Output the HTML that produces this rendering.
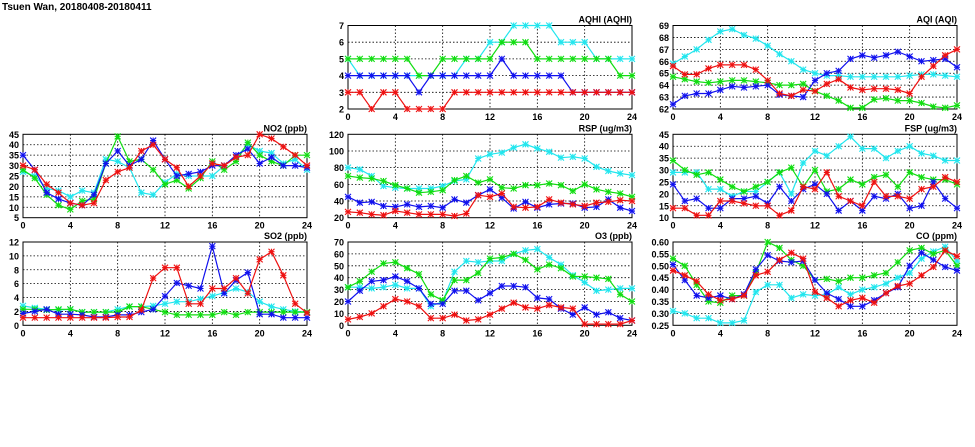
<!DOCTYPE html>
<html><head><meta charset="utf-8"><style>
body{margin:0;background:#fff;}
svg{display:block;font-family:"Liberation Sans",sans-serif;}
</style></head><body>
<svg id="chart" width="975" height="447" viewBox="0 0 975 447" xmlns="http://www.w3.org/2000/svg">
<text x="2" y="10" font-size="10" font-weight="bold">Tsuen Wan, 20180408-20180411</text>
</svg>
<script>
const hours = [0,1,2,3,4,5,6,7,8,9,10,11,12,13,14,15,16,17,18,19,20,21,22,23,24];
const xTicks = [0,4,8,12,16,20,24];

const aqhiCyan = [5,4,4,4,4,4,4,4,4,4,5,5,6,6,7,7,7,7,6,6,6,5,5,5,5];
const aqhiGreen = [5,5,5,5,5,5,4,4,5,5,5,5,5,6,6,6,5,5,5,5,5,5,5,4,4];
const aqhiBlue = [4,4,4,4,4,4,3,4,4,4,4,4,4,5,4,4,4,4,4,3,3,3,3,3,3];
const aqhiRed = [3,3,2,3,3,2,2,2,2,3,3,3,3,3,3,3,3,3,3,3,3,3,3,3,3];
const aqhiTicks = [2,3,4,5,6,7];

const aqiCyan = [65.8,66.4,67,67.8,68.5,68.7,68.2,67.9,67.3,66.6,66,65.3,65,64.8,64.8,64.7,64.7,64.7,64.7,64.7,64.8,64.9,64.9,64.8,64.7];
const aqiGreen = [64.7,64.5,64.3,64.2,64.3,64.4,64.4,64.3,64.2,64,64,64.1,63.5,63.1,62.7,62.1,62.1,62.8,62.9,62.7,62.7,62.5,62.2,62.1,62.3];
const aqiBlue = [62.4,63.1,63.3,63.3,63.6,63.9,63.8,63.9,64,63.2,63.1,63,64.4,65,65.2,66.2,66.5,66.3,66.5,66.8,66.4,66,66.1,66.2,65.5];
const aqiRed = [65.6,64.9,64.9,65.4,65.7,65.7,65.7,65.3,64.4,63.3,63.1,63.6,63.5,64.1,64.5,63.8,63.6,63.7,63.7,63.6,63.3,64.7,65.6,66.5,67];
const aqiTicks = [62,63,64,65,66,67,68,69];

const no2Cyan = [27,25,19,18,15,18,17,33,32,29,17,16,22,26,25,25,25,30,34,40,37,36,31,33,28];
const no2Green = [28,24,16,11,9,13,14,31,44,32,33,28,21,23,19,24,32,28,32,41,35,32,30,35,35];
const no2Blue = [35,28,17,14,12,11,16,31,37,30,33,42,33,25,26,27,30,30,35,38,31,34,30,30,29];
const no2Red = [30,28,21,17,12,11,12,23,27,29,37,40,33,29,20,25,31,30,34,35,45,43,39,35,30];
const no2Ticks = [5,10,15,20,25,30,35,40,45];

const rspCyan = [80,78,70,58,56,55,55,55,58,64,66,91,96,98,104,108,103,99,92,93,91,81,76,73,71];
const rspGreen = [70,68,67,64,59,55,50,51,53,65,70,62,66,56,55,59,59,61,59,52,60,54,51,49,45];
const rspBlue = [45,38,39,34,33,36,33,34,32,42,38,47,54,44,31,39,32,36,37,37,32,33,42,32,28];
const rspRed = [27,26,24,23,28,26,24,24,24,22,25,47,45,49,33,32,33,42,38,36,34,38,39,41,40];
const rspTicks = [20,40,60,80,100,120];

const fspCyan = [29,29,29,22,22,19,21,21,25,29,20,33,38,36,40,44,39,39,35,38,40,37,36,34,34];
const fspGreen = [34,30,28,29,26,23,21,23,25,29,31,23,30,21,22,26,24,27,28,23,29,27,26,26,24];
const fspBlue = [24,17,18,14,14,18,18,19,16,23,17,22,24,20,13,17,13,19,18,20,14,15,25,18,14];
const fspRed = [14,14,11,11,17,17,16,15,15,11,13,23,22,29,19,17,15,25,19,19,18,22,23,27,25];
const fspTicks = [10,15,20,25,30,35,40,45];

const so2Cyan = [2.8,2.5,2.3,2.2,2.3,1.9,1.9,1.9,2.3,2.7,2.7,2.8,3.1,3.4,3.4,3.8,4.2,4.7,5.3,4.8,3.4,2.7,2.3,2,1.9];
const so2Green = [2.3,2.3,2.2,2.3,2.3,1.9,1.9,1.9,1.9,2.7,2.7,2.3,1.9,1.5,1.5,1.5,1.5,1.9,1.5,1.9,1.9,1.9,1.9,1.9,1.9];
const so2Blue = [1.7,2.0,2.3,1.6,1.6,1.5,1.2,1.2,1.5,1.5,1.9,2.3,4.2,6.1,5.7,5.3,11.4,4.6,6.5,7.6,1.6,1.6,1.1,1.1,1.1];
const so2Red = [1.1,1.1,1.1,1.1,1.1,1.1,1.1,1.1,1.2,1.2,2.2,6.8,8.3,8.3,3.1,3.1,5.3,5.3,6.8,4.6,9.5,10.6,7.2,3.1,1.8];
const so2Ticks = [0,2,4,6,8,10,12];

const o3Cyan = [32,32,31,32,34,31,31,16,20,45,54,53,54,54,60,63,64,57,51,42,36,29,30,31,31];
const o3Green = [32,37,45,52,53,48,43,26,21,38,38,44,56,57,60,55,47,51,48,41,41,40,39,26,20];
const o3Blue = [20,29,37,38,41,37,31,18,18,29,29,21,27,33,33,32,23,22,14,9,15,9,11,6,4];
const o3Red = [5,7,10,16,22,20,16,6,6,9,4,5,9,14,19,15,14,17,15,14,1,1,1,1,4];
const o3Ticks = [0,10,20,30,40,50,60,70];

const coCyan = [0.31,0.30,0.28,0.28,0.26,0.26,0.27,0.39,0.42,0.42,0.365,0.38,0.375,0.38,0.41,0.38,0.40,0.41,0.425,0.45,0.47,0.53,0.56,0.58,0.52];
const coGreen = [0.53,0.50,0.42,0.35,0.345,0.375,0.375,0.47,0.60,0.575,0.525,0.50,0.44,0.445,0.435,0.45,0.45,0.46,0.47,0.515,0.565,0.575,0.55,0.565,0.50];
const coBlue = [0.505,0.44,0.375,0.365,0.375,0.36,0.38,0.485,0.545,0.52,0.515,0.52,0.44,0.385,0.36,0.33,0.33,0.355,0.385,0.41,0.50,0.555,0.525,0.495,0.48];
const coRed = [0.48,0.46,0.435,0.38,0.355,0.36,0.375,0.46,0.475,0.525,0.555,0.53,0.39,0.365,0.33,0.355,0.365,0.345,0.385,0.415,0.425,0.46,0.495,0.565,0.54];
const coTicks = [0.25,0.30,0.35,0.40,0.45,0.50,0.55,0.60];

const seriesColors = ['#22e6ee','#11dd11','#1111ee','#ee1111'];
const NS = 'http://www.w3.org/2000/svg';
const svg = document.getElementById('chart');

function mk(tag, attrs, parent){
  const e = document.createElementNS(NS, tag);
  for (const k in attrs) e.setAttribute(k, attrs[k]);
  (parent||svg).appendChild(e);
  return e;
}

const panels = [
  {key:'aqhi', title:'AQHI (AQHI)', L:348, R:632, T:25.5, B:109, ticks:aqhiTicks, series:[aqhiCyan,aqhiGreen,aqhiBlue,aqhiRed], dec:0},
  {key:'aqi', title:'AQI (AQI)', L:673, R:957, T:25.5, B:109, ticks:aqiTicks, series:[aqiCyan,aqiGreen,aqiBlue,aqiRed], dec:0},
  {key:'no2', title:'NO2 (ppb)', L:23, R:307, T:134.3, B:217.7, ticks:no2Ticks, series:[no2Cyan,no2Green,no2Blue,no2Red], dec:0},
  {key:'rsp', title:'RSP (ug/m3)', L:348, R:632, T:134.3, B:217.7, ticks:rspTicks, series:[rspCyan,rspGreen,rspBlue,rspRed], dec:0},
  {key:'fsp', title:'FSP (ug/m3)', L:673, R:957, T:134.3, B:217.7, ticks:fspTicks, series:[fspCyan,fspGreen,fspBlue,fspRed], dec:0},
  {key:'so2', title:'SO2 (ppb)', L:23, R:307, T:242, B:325.3, ticks:so2Ticks, series:[so2Cyan,so2Green,so2Blue,so2Red], dec:0},
  {key:'o3', title:'O3 (ppb)', L:348, R:632, T:242, B:325.3, ticks:o3Ticks, series:[o3Cyan,o3Green,o3Blue,o3Red], dec:0},
  {key:'co', title:'CO (ppm)', L:673, R:957, T:242, B:325.3, ticks:coTicks, series:[coCyan,coGreen,coBlue,coRed], dec:2}
];

panels.forEach(p => {
  const g = mk('g', {});
  
  
  const ymin = p.ticks[0], ymax = p.ticks[p.ticks.length-1];
  const xs = v => p.L + (v - 0) / 24 * (p.R - p.L);
  const ys = v => p.B - (v - ymin) / (ymax - ymin) * (p.B - p.T);

  // grid
  p.ticks.forEach((t,i) => {
    const y = ys(t);
    if (i > 0 && i < p.ticks.length-1) {
      const gl = mk('line', {x1:p.L, x2:p.R, y1:y, y2:y, stroke:'#000', 'stroke-width':0.8, 'stroke-dasharray':'1.5,2'}, g);
      
      
    }
    const lbl = mk('text', {x:p.L-4, y:y+3.5, 'font-size':9, 'font-weight':'bold', 'text-anchor':'end'}, g);
    lbl.textContent = p.dec ? t.toFixed(2) : String(t);
    
    
  });
  xTicks.forEach((t,i) => {
    const x = xs(t);
    if (i > 0 && i < xTicks.length-1) {
      const gl = mk('line', {x1:x, x2:x, y1:p.T, y2:p.B, stroke:'#000', 'stroke-width':0.8, 'stroke-dasharray':'1.5,2'}, g);
      
      
    }
    const lbl = mk('text', {x:x, y:p.B+11, 'font-size':9, 'font-weight':'bold', 'text-anchor':'middle'}, g);
    lbl.textContent = String(t);
    
    
  });
  const frame = mk('rect', {x:p.L, y:p.T, width:p.R-p.L, height:p.B-p.T, fill:'none', stroke:'#000', 'stroke-width':1}, g);
  
  
  const title = mk('text', {x:p.R, y:p.T-3, 'font-size':9, 'font-weight':'bold', 'text-anchor':'end'}, g);
  title.textContent = p.title;
  
  

  p.series.forEach((vals, si) => {
    const c = seriesColors[si];
    const pts = vals.map((v,i) => xs(hours[i]).toFixed(1) + ',' + ys(v).toFixed(1)).join(' ');
    const pl = mk('polyline', {points:pts, fill:'none', stroke:c, 'stroke-width':1.2}, g);
    
    
    vals.forEach((v,i) => {
      const x = xs(hours[i]), y = ys(v), s = 3;
      const m = mk('path', {d:`M${x-s},${y}H${x+s}M${x},${y-s}V${y+s}M${x-s},${y-s}L${x+s},${y+s}M${x-s},${y+s}L${x+s},${y-s}`, stroke:c, 'stroke-width':1.1, fill:'none'}, g);
      
      
    });
  });
});
</script>
</body></html>
